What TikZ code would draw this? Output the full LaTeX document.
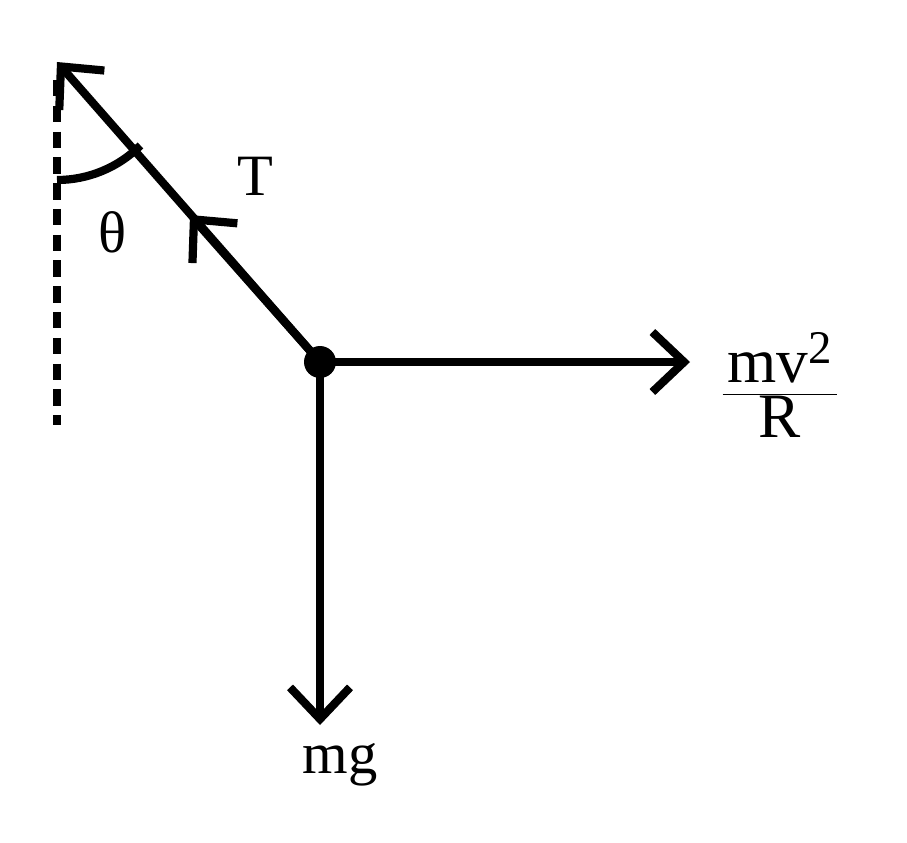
\documentclass[tikz,border=0pt]{standalone}
\usepackage{fontspec}
\setmainfont{Liberation Serif}
\usetikzlibrary{arrows.meta}
\begin{document}
\begin{tikzpicture}[x=0.03cm,y=-0.03cm,
  ln/.style={line width=7pt},
  tip/.style={-{Straight Barb[length=0.95cm,width=1.8cm,line width=7pt]}},
  lbl/.style={font=\fontsize{50}{58}\selectfont,inner sep=0pt}]
\useasboundingbox (0,0) rectangle (907,842);
\coordinate (O) at (320,362);
\coordinate (A) at (57,62);
\coordinate (M) at (190,215);
\coordinate (E) at (690,362);
\coordinate (D) at (320,725);
\draw[ln,tip] (O) -- (A);
\draw[ln,tip] (O) -- (M);
\draw[ln,tip] (O) -- (E);
\draw[ln,tip] (O) -- (D);
\draw[ln,dash pattern=on 14pt off 8pt] (57,80) -- (57,425);
\draw[ln] (57,180) arc[start angle=90,end angle=45,radius=118];
\fill (O) circle (16);
\node[lbl] (T) at (255,176) {T};
\node[lbl] (th) at (113,232) {θ};
\node[lbl] (mg) at (340,765) {mg};
\node[lbl,font=\fontsize{54}{62}\selectfont] (f) at (780,385) {$\displaystyle\frac{\,\mbox{mv}^{\mbox{\fontsize{40}{44}\selectfont 2}}\,}{\mbox{R}}$};
\end{tikzpicture}
\end{document}
